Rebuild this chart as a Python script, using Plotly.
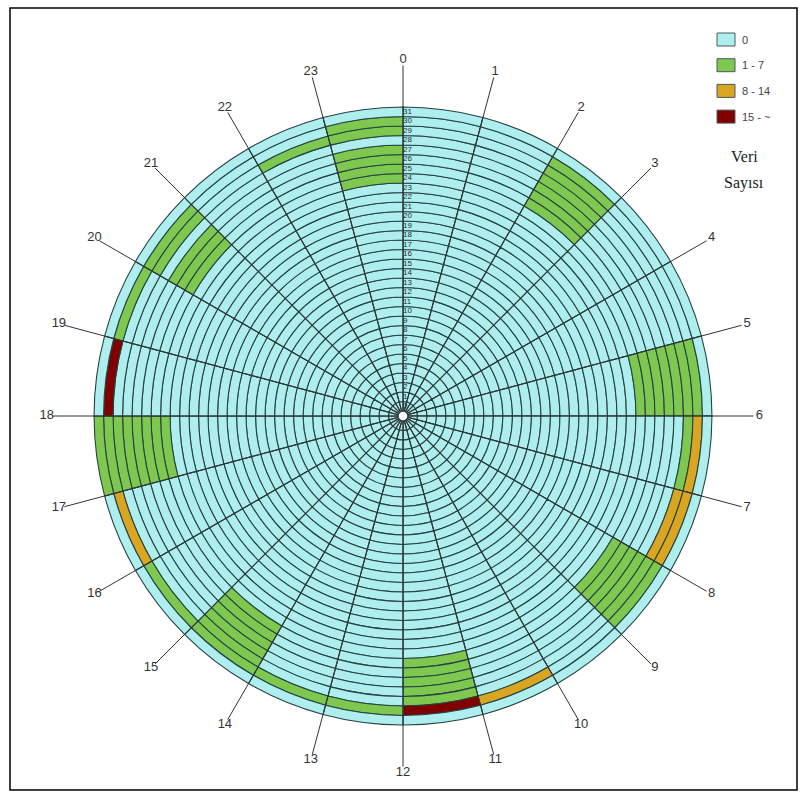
import plotly.graph_objects as go

# ---------------- data ----------------
hour_labels = [str(h) for h in range(24)]          # sectors (clockwise from top)
day_labels = [str(d) for d in range(32)]           # rings, 0 = innermost, 31 = outermost
class_names = ["0", "1 - 7", "8 - 14", "15 - ~"]
class_colors = ["#aeeeee", "#7ec850", "#daa520", "#800000"]
legend_title = ["Veri", "Sayısı"]

# (hour, day) cells; every other cell is class 0
green_cells = [
    (23, 24), (23, 25), (23, 26), (23, 27), (23, 29), (23, 30),
    (22, 29),
    (20, 25), (20, 26), (20, 27), (20, 29), (20, 30),
    (19, 30),
    (17, 24), (17, 25), (17, 26), (17, 27), (17, 28), (17, 29), (17, 30), (17, 31),
    (15, 30),
    (14, 25), (14, 26), (14, 27), (14, 28), (14, 29), (14, 30),
    (13, 30),
    (12, 30),
    (11, 25), (11, 26), (11, 27), (11, 28), (11, 29),
    (8, 25), (8, 26), (8, 27), (8, 28), (8, 29), (8, 30),
    (6, 29),
    (5, 24), (5, 25), (5, 26), (5, 27), (5, 28), (5, 29), (5, 30),
    (2, 25), (2, 26), (2, 27), (2, 28), (2, 29), (2, 30),
]
gold_cells = [(16, 30), (10, 30), (7, 29), (7, 30), (6, 30)]
red_cells = [(18, 30), (11, 30)]

# ---------------- build ----------------
n_h, n_d = len(hour_labels), len(day_labels)
level = [[0] * n_d for _ in range(n_h)]
for h, d in green_cells:
    level[h][d] = 1
for h, d in gold_cells:
    level[h][d] = 2
for h, d in red_cells:
    level[h][d] = 3

HOLE = 0.52          # empty disc in the centre (ring units)
SPOKE_END = 36.9
LABEL_R = 37.5
R_MAX = 39.0
LINE = "#264242"

thetas, bases, rs, cols = [], [], [], []
for h in range(n_h):
    for d in range(n_d):
        thetas.append(h * 15 + 7.5)
        bases.append(HOLE + d)
        rs.append(1)
        cols.append(class_colors[level[h][d]])

fig = go.Figure()
fig.add_trace(go.Barpolar(
    r=rs, base=bases, theta=thetas, width=[15] * len(rs),
    marker=dict(color=cols, line=dict(color=LINE, width=1.1)),
    hoverinfo="skip", showlegend=False,
))

# hour spokes
sr, st = [], []
for h in range(n_h):
    sr += [HOLE, SPOKE_END, None]
    st += [h * 15, h * 15, None]
fig.add_trace(go.Scatterpolar(
    r=sr, theta=st, mode="lines", line=dict(color="#333333", width=1),
    hoverinfo="skip", showlegend=False,
))

# hour labels
fig.add_trace(go.Scatterpolar(
    r=[LABEL_R] * n_h, theta=[h * 15 for h in range(n_h)], text=hour_labels,
    mode="text", textposition="middle center",
    textfont=dict(family="Liberation Sans, Arial", size=13, color="#333333"),
    hoverinfo="skip", showlegend=False,
))

# ring labels along the 0 spoke
fig.add_trace(go.Scatterpolar(
    r=[HOLE + d + 0.5 for d in range(n_d)], theta=[0] * n_d, text=day_labels,
    mode="text", textposition="middle right",
    textfont=dict(family="Liberation Sans, Arial", size=8, color="#1e2e2e"),
    hoverinfo="skip", showlegend=False,
))

W, H = 806, 798
cx, cy, rad = 403, 416, 370.5
fig.update_layout(
    width=W, height=H,
    margin=dict(l=0, r=0, t=0, b=0),
    paper_bgcolor="white", plot_bgcolor="white",
    polar=dict(
        domain=dict(x=[(cx - rad) / W, (cx + rad) / W],
                    y=[1 - (cy + rad) / H, 1 - (cy - rad) / H]),
        bgcolor="rgba(0,0,0,0)",
        hole=0,
        angularaxis=dict(rotation=90, direction="clockwise", showgrid=False,
                         showline=False, showticklabels=False, ticks=""),
        radialaxis=dict(range=[0, R_MAX], visible=False, showgrid=False),
        bargap=0,
    ),
)

# legend (drawn manually)
shapes = [dict(type="rect", xref="paper", yref="paper",
               x0=10 / W, x1=797 / W, y0=1 - 790 / H, y1=1 - 8 / H,
               line=dict(color="black", width=1.5))]
annotations = []
for i, (name, col) in enumerate(zip(class_names, class_colors)):
    y0 = 33 + i * 25.7
    shapes.append(dict(type="rect", xref="paper", yref="paper",
                       x0=717 / W, x1=735 / W, y0=1 - (y0 + 13) / H, y1=1 - y0 / H,
                       fillcolor=col, line=dict(color="#4a5a5a", width=1)))
    annotations.append(dict(x=740 / W, y=1 - (y0 + 6.5) / H, xref="paper", yref="paper",
                            text=name, showarrow=False, xanchor="left", yanchor="middle",
                            font=dict(family="Liberation Sans, Arial", size=11, color="#444444")))
for i, t in enumerate(legend_title):
    annotations.append(dict(x=744 / W, y=1 - (157 + i * 26) / H, xref="paper", yref="paper",
                            text=t, showarrow=False, xanchor="center", yanchor="middle",
                            font=dict(family="Liberation Serif, Times New Roman", size=16,
                                      color="#222222")))
fig.update_layout(shapes=shapes, annotations=annotations)

fig.write_html("out.html", config={"displayModeBar": False},
               post_script="document.body.style.margin='0px';")
